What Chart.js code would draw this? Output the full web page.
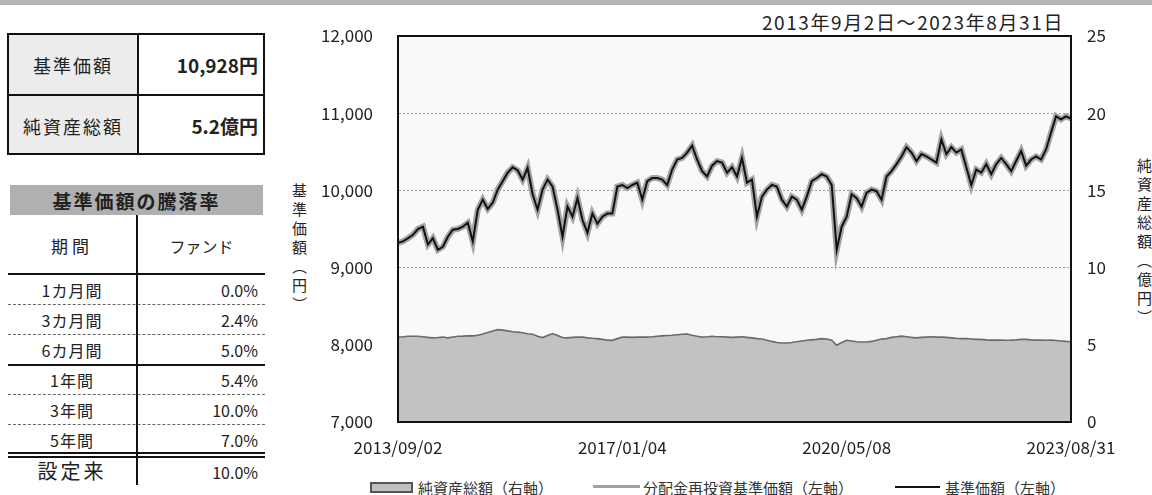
<!DOCTYPE html>
<html>
<head>
<meta charset="utf-8">
<script src="https://cdn.jsdelivr.net/npm/chart.js@4.4.0/dist/chart.umd.min.js"></script>
<style>
  body { margin: 0; width: 1152px; height: 495px; background: #fff; position: relative; overflow: hidden;
         font-family: "Noto Sans CJK JP", "Noto Sans", sans-serif; color: #222; }
  .abs { position: absolute; white-space: nowrap; }
  #topbar { left: 0; top: 0; width: 1152px; height: 5px; background: #b4b4b4; }
  #info { left: 7px; top: 33px; width: 254px; height: 118px; border: 2px solid #111; }
  .lbl { background: #ececec; }
  .vtitle { writing-mode: vertical-rl; font-size: 15px; letter-spacing: 4px; line-height: 16px; }
  .hline { position: absolute; left: 8px; width: 257px; }
  .cell { position: absolute; font-size: 16px; line-height: 20px; }
  .leg { font-size: 15px; color: #333; top: 477px; }
  canvas { position: absolute; left: 290px; top: 0; }
</style>
</head>
<body>
<div class="abs" id="topbar"></div>

<!-- 基準価額・純資産総額 -->
<div class="abs lbl" style="left:9px;top:35px;width:128px;height:60px;"></div>
<div class="abs lbl" style="left:9px;top:96px;width:128px;height:57px;"></div>
<div class="abs" id="info"></div>
<div class="abs" style="left:137px;top:33px;width:2px;height:122px;background:#111;"></div>
<div class="abs" style="left:7px;top:94px;width:258px;height:2px;background:#111;"></div>
<div class="abs" style="left:9px;top:52px;width:128px;text-align:center;font-size:18px;letter-spacing:2px;">基準価額</div>
<div class="abs" style="left:9px;top:113px;width:128px;text-align:center;font-size:18px;letter-spacing:2px;">純資産総額</div>
<div class="abs" id="navText" style="right:894px;top:51px;font-size:19px;font-weight:bold;"></div>
<div class="abs" id="assetText" style="right:894px;top:112px;font-size:19px;font-weight:bold;"></div>

<!-- 騰落率 -->
<div class="abs" style="left:10px;top:185px;width:253px;height:30px;background:#b0b0b0;"></div>
<div class="abs" style="left:10px;top:187px;width:253px;text-align:center;font-size:19px;font-weight:bold;letter-spacing:2px;">基準価額の騰落率</div>
<div class="abs" style="left:136px;top:215px;width:2px;height:270px;background:#111;"></div>
<div class="abs" style="left:8px;top:233px;width:128px;text-align:center;font-size:17px;letter-spacing:4px;">期間</div>
<div class="abs" style="left:138px;top:234px;width:127px;text-align:center;font-size:16px;">ファンド</div>
<div id="perf"></div>

<!-- axis titles and period -->
<div class="abs" id="period" style="right:88px;top:8px;font-size:19px;letter-spacing:1.6px;"></div>
<div class="abs vtitle" style="left:291px;top:183px;">基準価額（円）</div>
<div class="abs vtitle" style="left:1136px;top:158px;">純資産総額（億円）</div>

<!-- legend -->
<div class="abs" style="left:370px;top:482px;width:39px;height:7px;background:#c0c0c0;border:2px solid #555;"></div>
<div class="abs leg" style="left:418px;">純資産総額（右軸）</div>
<div class="abs" style="left:593px;top:485px;width:47px;height:3px;background:#a0a0a0;"></div>
<div class="abs leg" style="left:643px;">分配金再投資基準価額（左軸）</div>
<div class="abs" style="left:895px;top:486px;width:45px;height:2px;background:#111;"></div>
<div class="abs leg" style="left:945px;">基準価額（左軸）</div>

<canvas id="navChart" width="862" height="470"></canvas>

<script>
// summary figures
const latestNav = '10,928円';
const latestAssets = '5.2億円';
const periodText = '2013年9月2日～2023年8月31日';

// performance table
const periods = ['1カ月間', '3カ月間', '6カ月間', '1年間', '3年間', '5年間', '設定来'];
const fundReturns = ['0.0%', '2.4%', '5.0%', '5.4%', '10.0%', '7.0%', '10.0%'];

// x axis labels (evenly spaced along the series)
const xTickLabels = ['2013/09/02', '2017/01/04', '2020/05/08', '2023/08/31'];

// 基準価額 (円), sampled evenly from 2013/09/02 to 2023/08/31
const navValues = [
    9320, 9340, 9380, 9425, 9500, 9530, 9300, 9380, 9230, 9270,
    9400, 9490, 9500, 9530, 9580, 9340, 9750, 9880, 9760, 9840,
    10010, 10120, 10230, 10300, 10260, 10140, 10290, 9950, 9750, 10010,
    10140, 10050, 9750, 9400, 9790, 9660, 9900, 9620, 9450, 9700,
    9570, 9660, 9700, 9700, 10050, 10070, 10030, 10070, 10100, 9880,
    10120, 10160, 10160, 10140, 10070, 10270, 10400, 10420, 10490, 10580,
    10400, 10250, 10180, 10320, 10380, 10360, 10230, 10300, 10180, 10420,
    10100, 10140, 9660, 9920, 10010, 10070, 10050, 9880, 9790, 9920,
    9880, 9750, 9920, 10120, 10160, 10210, 10180, 10070, 9230, 9530,
    9660, 9950, 9900, 9790, 9970, 10010, 9990, 9880, 10180, 10250,
    10340, 10440, 10560, 10490, 10380, 10470, 10440, 10400, 10360, 10660,
    10470, 10560, 10490, 10530, 10300, 10070, 10270, 10230, 10340, 10210,
    10340, 10420, 10340, 10250, 10380, 10510, 10320, 10400, 10440, 10400,
    10530, 10750, 10960, 10920, 10960, 10930
];

// 分配金再投資基準価額 (円): no distributions, overlaps the NAV line
const reinvestedNav = navValues;

// 純資産総額 (億円)
const netAssets = [
    5.50, 5.52, 5.55, 5.55, 5.55, 5.52, 5.48, 5.45, 5.47, 5.50,
    5.45, 5.50, 5.55, 5.56, 5.58, 5.58, 5.62, 5.70, 5.80, 5.90,
    5.98, 5.95, 5.90, 5.85, 5.82, 5.78, 5.72, 5.68, 5.55, 5.47,
    5.60, 5.73, 5.60, 5.47, 5.45, 5.48, 5.50, 5.50, 5.45, 5.42,
    5.40, 5.35, 5.30, 5.29, 5.40, 5.50, 5.50, 5.48, 5.50, 5.50,
    5.50, 5.52, 5.55, 5.58, 5.60, 5.62, 5.65, 5.68, 5.70, 5.62,
    5.55, 5.50, 5.52, 5.55, 5.52, 5.52, 5.50, 5.48, 5.50, 5.52,
    5.48, 5.45, 5.40, 5.38, 5.30, 5.22, 5.15, 5.12, 5.12, 5.15,
    5.20, 5.25, 5.29, 5.32, 5.35, 5.40, 5.38, 5.30, 4.97, 5.15,
    5.29, 5.25, 5.20, 5.18, 5.18, 5.22, 5.30, 5.38, 5.40, 5.48,
    5.52, 5.56, 5.52, 5.48, 5.45, 5.48, 5.50, 5.52, 5.50, 5.50,
    5.48, 5.45, 5.42, 5.40, 5.40, 5.38, 5.35, 5.35, 5.32, 5.30,
    5.30, 5.30, 5.29, 5.30, 5.32, 5.35, 5.35, 5.32, 5.30, 5.30,
    5.29, 5.30, 5.28, 5.25, 5.22, 5.20
];

document.getElementById('navText').textContent = latestNav;
document.getElementById('assetText').textContent = latestAssets;
document.getElementById('period').textContent = periodText;

// build the performance rows
const perf = document.getElementById('perf');
const rowTop = 280;
const rowH = 30;
periods.forEach((p, i) => {
    const y = rowTop + i * rowH;
    const big = i === periods.length - 1;
    const name = document.createElement('div');
    name.className = 'cell';
    name.style.cssText = `left:8px;top:${y + (big ? 1 : 0)}px;width:128px;text-align:center;` +
        (big ? 'font-size:20px;letter-spacing:3px;' : 'letter-spacing:1px;');
    name.textContent = p;
    perf.appendChild(name);
    const val = document.createElement('div');
    val.className = 'cell';
    val.style.cssText = `right:894px;top:${y + (big ? 2 : 0)}px;`;
    val.textContent = fundReturns[i];
    perf.appendChild(val);
});
// separators: solid after header, dotted inside groups, solid between month/year groups, double before 設定来
const lines = [
    { y: 273, css: 'height:2px;background:#111;' },
    { y: 304, css: 'border-top:1px dashed #666;' },
    { y: 334, css: 'border-top:1px dashed #666;' },
    { y: 364, css: 'height:2px;background:#111;' },
    { y: 394, css: 'border-top:1px dashed #666;' },
    { y: 424, css: 'border-top:1px dashed #666;' },
    { y: 452, css: 'height:2px;background:#111;' },
    { y: 456, css: 'height:2px;background:#111;' }
];
lines.forEach(l => {
    const d = document.createElement('div');
    d.className = 'hline';
    d.style.cssText = `top:${l.y}px;` + l.css;
    perf.appendChild(d);
});

const tickIndex = {};
xTickLabels.forEach((t, i) => {
    tickIndex[Math.round(i * (navValues.length - 1) / (xTickLabels.length - 1))] = t;
});
const labels = navValues.map((_, i) => tickIndex[i] || '');

const frame = {
    id: 'frame',
    beforeDraw(chart) {
        const { ctx, chartArea: a } = chart;
        ctx.save();
        ctx.fillStyle = '#f9f9f9';
        ctx.fillRect(a.left, a.top, a.width, a.height);
        ctx.restore();
    },
    afterDatasetsDraw(chart) {
        const { ctx, chartArea: a } = chart;
        ctx.save();
        ctx.strokeStyle = '#111';
        ctx.lineWidth = 2;
        ctx.strokeRect(a.left, a.top, a.width, a.height);
        ctx.restore();
    }
};

const tickFont = { family: '"Noto Sans CJK JP", sans-serif', size: 17 };

const ctx = document.getElementById('navChart').getContext('2d');
const navChart = new Chart(ctx, {
    type: 'line',
    data: {
        labels: labels,
        datasets: [
            {
                label: '基準価額（左軸）',
                data: navValues,
                yAxisID: 'y',
                borderColor: '#111',
                borderWidth: 2,
                pointRadius: 0,
                tension: 0,
                order: 1
            },
            {
                label: '分配金再投資基準価額（左軸）',
                data: reinvestedNav,
                yAxisID: 'y',
                borderColor: '#a4a4a4',
                borderWidth: 6,
                pointRadius: 0,
                tension: 0,
                order: 2
            },
            {
                label: '純資産総額（右軸）',
                data: netAssets,
                yAxisID: 'y1',
                borderColor: '#6a6a6a',
                borderWidth: 1.6,
                backgroundColor: '#c2c2c2',
                fill: 'start',
                pointRadius: 0,
                tension: 0,
                order: 3
            }
        ]
    },
    options: {
        responsive: false,
        animation: false,
        layout: { padding: { top: 36, left: 0, right: 0, bottom: 0 } },
        plugins: { legend: { display: false }, tooltip: { enabled: false } },
        scales: {
            x: {
                type: 'category',
                grid: { display: false, drawTicks: false },
                border: { display: true, color: '#111', width: 2 },
                ticks: {
                    autoSkip: false, maxRotation: 0, padding: 15,
                    color: '#222', font: tickFont,
                    callback: (v, i) => labels[i] || null
                },
                afterFit(s) { s.height = 48; }
            },
            y: {
                position: 'left',
                min: 7000, max: 12000,
                grid: { color: '#9c9c9c', lineWidth: 1, drawTicks: false },
                border: { display: true, color: '#111', width: 2, dash: [2, 2] },
                ticks: {
                    stepSize: 1000, padding: 25, color: '#222', font: tickFont,
                    callback: v => v.toLocaleString('en-US')
                },
                afterFit(s) { s.width = 108; }
            },
            y1: {
                position: 'right',
                min: 0, max: 25,
                grid: { drawOnChartArea: false, drawTicks: false },
                border: { display: true, color: '#111', width: 2 },
                ticks: { stepSize: 5, padding: 16, color: '#222', font: tickFont },
                afterFit(s) { s.width = 81; }
            }
        }
    },
    plugins: [frame]
});
</script>
</body>
</html>
